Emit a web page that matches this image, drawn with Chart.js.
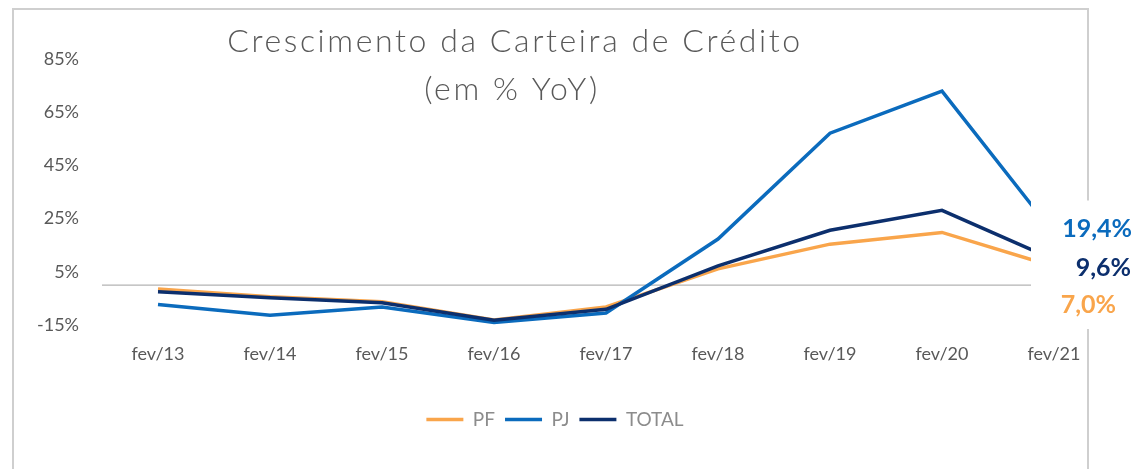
<!DOCTYPE html>
<html>
<head>
<meta charset="utf-8">
<script src="https://cdn.jsdelivr.net/npm/chart.js@4.4.1/dist/chart.umd.min.js"></script>
<style>
  html, body { margin: 0; padding: 0; background: #ffffff; }
  #wrap { position: relative; width: 1131px; height: 469px; }
</style>
</head>
<body>
<div id="wrap"><canvas id="c" width="1131" height="469"></canvas></div>
<script>
// ---- Data ----
const categories = ['fev/13','fev/14','fev/15','fev/16','fev/17','fev/18','fev/19','fev/20','fev/21'];
const pfValues    = [-1.5, -4.4, -6.3, -13.1, -8.2,  6.1, 15.4, 19.8,  7.0];
const pjValues    = [-7.3, -11.3, -8.2, -14.1, -10.5, 17.3, 57.1, 72.9, 19.4];
const totalValues = [-2.5, -4.8, -6.6, -13.2, -9.1,  7.2, 20.6, 28.1,  9.6];
const endLabels   = ['19,4%', '9,6%', '7,0%'];   // PJ, TOTAL, PF
const titleLines  = ['Crescimento da Carteira de Crédito', '(em % YoY)'];

const COL_PF = '#F9A54B', COL_PJ = '#0B6BBD', COL_TOTAL = '#0C2F6D';
const FONT = 'Lato, "Open Sans", sans-serif';

const decor = {
  id: 'decor',
  beforeDraw(chart) {
    const ctx = chart.ctx;
    ctx.save();
    ctx.strokeStyle = '#cfcfcf';
    ctx.lineWidth = 2;
    ctx.beginPath();
    ctx.moveTo(13, 480); ctx.lineTo(13, 9); ctx.lineTo(1088, 9); ctx.lineTo(1088, 480);
    ctx.stroke();
    ctx.restore();
  },
  beforeDatasetsDraw(chart) {
    const ctx = chart.ctx, a = chart.chartArea, y0 = chart.scales.y.getPixelForValue(0);
    ctx.save();
    ctx.strokeStyle = '#b3b3b3';
    ctx.lineWidth = 1.2;
    ctx.beginPath(); ctx.moveTo(a.left, y0); ctx.lineTo(a.right, y0); ctx.stroke();
    ctx.restore();
  },
  afterDatasetsDraw(chart) {
    const ctx = chart.ctx, xs = chart.scales.x, ys = chart.scales.y;
    const last = categories.length - 1;
    const xl = xs.getPixelForValue(last);
    const yTop = ys.getPixelForValue(pjValues[last]) - 5;
    const ys3 = [yTop, yTop + 39.5, yTop + 76.5];
    const rights = [chart.width + 1, chart.width, chart.width - 15];
    const cols = [COL_PJ, COL_TOTAL, COL_PF];
    ctx.save();
    ctx.fillStyle = '#ffffff';
    ctx.fillRect(xl - 23, ys3[0] - 28, chart.width, ys3[2] - ys3[0] + 52);
    ctx.font = 'bold 25px ' + FONT;
    ctx.textAlign = 'right';
    ctx.textBaseline = 'middle';
    for (let i = 0; i < 3; i++) {
      ctx.fillStyle = cols[i];
      ctx.fillText(endLabels[i], rights[i], ys3[i]);
    }
    ctx.restore();
  },
  afterDraw(chart) {
    const ctx = chart.ctx;
    ctx.save();
    ctx.fillStyle = '#595959';
    ctx.font = '300 32px ' + FONT;
    ctx.letterSpacing = '2.6px';
    ctx.textAlign = 'center';
    ctx.textBaseline = 'middle';
    ctx.fillText(titleLines[0], 515, 42);
    ctx.fillText(titleLines[1], 512, 90);
    ctx.restore();
  }
};

new Chart(document.getElementById('c'), {
  type: 'line',
  data: {
    labels: categories,
    datasets: [
      { label: 'PF', data: pfValues, borderColor: COL_PF, backgroundColor: COL_PF, borderWidth: 3.5, order: 3 },
      { label: 'PJ', data: pjValues, borderColor: COL_PJ, backgroundColor: COL_PJ, borderWidth: 3.5, order: 2 },
      { label: 'TOTAL', data: totalValues, borderColor: COL_TOTAL, backgroundColor: COL_TOTAL, borderWidth: 3.5, order: 1 }
    ]
  },
  options: {
    responsive: false,
    animation: false,
    devicePixelRatio: 1,
    layout: { padding: { left: 0, right: 21, top: 59, bottom: 30 } },
    elements: {
      line: { tension: 0, borderCapStyle: 'butt', borderJoinStyle: 'miter' },
      point: { radius: 0, hoverRadius: 0 }
    },
    scales: {
      x: {
        offset: true,
        grid: { display: false, drawTicks: false },
        border: { display: false },
        ticks: { color: '#595959', font: { family: FONT, size: 18, weight: '400' }, padding: 18, maxRotation: 0, autoSkip: false },
        afterFit(s) { s.height = 75; }
      },
      y: {
        min: -15, max: 85,
        grid: { display: false, drawTicks: false },
        border: { display: false },
        ticks: { stepSize: 20, color: '#595959', font: { family: FONT, size: 18, weight: '400' }, padding: 23,
                 callback: v => v + '%' },
        afterFit(s) { s.width = 102; }
      }
    },
    plugins: {
      legend: {
        position: 'bottom',
        labels: {
          usePointStyle: true, pointStyle: 'line', pointStyleWidth: 37,
          color: '#8c8c8c', font: { family: FONT, size: 19, weight: '400' }, padding: 10,
          sort: (a, b) => a.datasetIndex - b.datasetIndex
        }
      },
      title: { display: false },
      tooltip: { enabled: false }
    }
  },
  plugins: [decor]
});
</script>
</body>
</html>
